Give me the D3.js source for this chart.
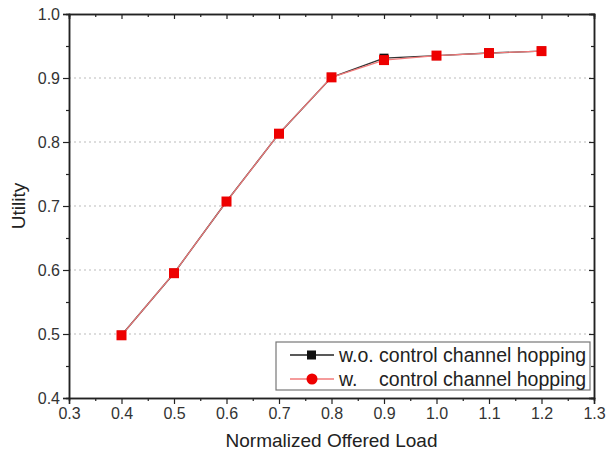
<!DOCTYPE html>
<html>
<head>
<meta charset="utf-8">
<script src="https://cdn.jsdelivr.net/npm/d3@7"></script>
<style>
  body { margin: 0; background: #fff; }
  svg { font-family: "Liberation Sans", Arial, sans-serif; }
</style>
</head>
<body>
<svg width="606" height="459"></svg>
<script>
const loads = [0.4, 0.5, 0.6, 0.7, 0.8, 0.9, 1.0, 1.1, 1.2];
const withoutHopping = [0.498, 0.595, 0.707, 0.813, 0.901, 0.931, 0.935, 0.939, 0.942];
const withHopping = [0.498, 0.595, 0.707, 0.813, 0.901, 0.928, 0.935, 0.939, 0.942];
const seriesNames = ["w.o. control channel hopping", "w.    control channel hopping"];
const xTicks = [0.3, 0.4, 0.5, 0.6, 0.7, 0.8, 0.9, 1.0, 1.1, 1.2, 1.3];
const yTicks = [0.4, 0.5, 0.6, 0.7, 0.8, 0.9, 1.0];
const gridTicks = [0.5, 0.6, 0.7, 0.8, 0.9];

const svg = d3.select("svg"),
  margin = { top: 14, right: 12, bottom: 61, left: 69 },
  width = +svg.attr("width") - margin.left - margin.right,
  height = +svg.attr("height") - margin.top - margin.bottom;

const chart = svg
  .append("g")
  .attr("transform", `translate(${margin.left},${margin.top})`);

const x = d3.scaleLinear().domain([0.3, 1.3]).range([0, width]);
const y = d3.scaleLinear().domain([0.4, 1.0]).range([height, 0]);

// dotted grid
chart
  .selectAll(".grid")
  .data(gridTicks)
  .enter()
  .append("line")
  .attr("x1", 0)
  .attr("x2", width)
  .attr("y1", (d) => y(d))
  .attr("y2", (d) => y(d))
  .attr("stroke", "#bbb")
  .attr("stroke-width", 1)
  .attr("stroke-dasharray", "2,3");

const minorX = d3.range(0.35, 1.3, 0.1);
const minorY = d3.range(0.45, 1.0, 0.1);

function styleAxis(g, labels) {
  g.select(".domain").attr("stroke", "#222").attr("stroke-width", 1.5);
  g.selectAll(".tick line").attr("stroke", "#222").attr("stroke-width", 1.2);
  g.selectAll(".tick text")
    .attr("fill", labels ? "#333" : "none")
    .attr("font-size", 16);
}

// bottom
chart.append("g")
  .attr("transform", `translate(0,${height})`)
  .call(d3.axisBottom(x).tickValues(xTicks).tickFormat(d3.format(".1f")).tickSize(6).tickPadding(4))
  .call((g) => styleAxis(g, true));
chart.append("g")
  .attr("transform", `translate(0,${height})`)
  .call(d3.axisBottom(x).tickValues(minorX).tickSize(3).tickFormat(""))
  .call((g) => styleAxis(g, false));

// left
chart.append("g")
  .call(d3.axisLeft(y).tickValues(yTicks).tickFormat(d3.format(".1f")).tickSize(6).tickPadding(3))
  .call((g) => styleAxis(g, true));
chart.append("g")
  .call(d3.axisLeft(y).tickValues(minorY).tickSize(3).tickFormat(""))
  .call((g) => styleAxis(g, false));

// top and right mirrored, ticks inward
chart.append("g")
  .call(d3.axisTop(x).tickValues(xTicks).tickSize(-5).tickFormat(""))
  .call((g) => styleAxis(g, false));
chart.append("g")
  .call(d3.axisTop(x).tickValues(minorX).tickSize(-3).tickFormat(""))
  .call((g) => styleAxis(g, false));
chart.append("g")
  .attr("transform", `translate(${width},0)`)
  .call(d3.axisRight(y).tickValues(yTicks).tickSize(-5).tickFormat(""))
  .call((g) => styleAxis(g, false));
chart.append("g")
  .attr("transform", `translate(${width},0)`)
  .call(d3.axisRight(y).tickValues(minorY).tickSize(-3).tickFormat(""))
  .call((g) => styleAxis(g, false));

// axis titles
svg.append("text")
  .attr("x", margin.left + x(0.8))
  .attr("y", 447)
  .attr("text-anchor", "middle")
  .attr("font-size", 19)
  .attr("fill", "#222")
  .text("Normalized Offered Load");

svg.append("text")
  .attr("transform", `translate(25,${margin.top + y(0.7)}) rotate(-90)`)
  .attr("text-anchor", "middle")
  .attr("font-size", 19)
  .attr("fill", "#222")
  .text("Utility");

const line = d3.line().x((d) => x(d[0])).y((d) => y(d[1]));
const ptsA = loads.map((l, i) => [l, withoutHopping[i]]);
const ptsB = loads.map((l, i) => [l, withHopping[i]]);

// black series
chart.append("path")
  .datum(ptsA)
  .attr("fill", "none")
  .attr("stroke", "#333")
  .attr("stroke-width", 1.4)
  .attr("d", line);
chart.selectAll(".sqA")
  .data(ptsA)
  .enter()
  .append("rect")
  .attr("x", (d) => x(d[0]) - 4.5)
  .attr("y", (d) => y(d[1]) - 4.5)
  .attr("width", 9)
  .attr("height", 9)
  .attr("fill", "#111");

// red series
chart.append("path")
  .datum(ptsB)
  .attr("fill", "none")
  .attr("stroke", "#f27a7a")
  .attr("stroke-width", 1.2)
  .attr("d", line);
chart.selectAll(".sqB")
  .data(ptsB)
  .enter()
  .append("rect")
  .attr("x", (d) => x(d[0]) - 5)
  .attr("y", (d) => y(d[1]) - 5)
  .attr("width", 10)
  .attr("height", 10)
  .attr("fill", "#ee0000");

// legend
const legend = svg.append("g").attr("transform", "translate(276,342)");
legend.append("rect")
  .attr("width", 314)
  .attr("height", 48)
  .attr("fill", "#fff")
  .attr("stroke", "#777")
  .attr("stroke-width", 1.2);

const rows = legend.selectAll(".row")
  .data(seriesNames)
  .enter()
  .append("g")
  .attr("transform", (d, i) => `translate(0,${13 + i * 24})`);
rows.append("line")
  .attr("x1", 14)
  .attr("x2", 58)
  .attr("stroke", (d, i) => (i === 0 ? "#222" : "#f27a7a"))
  .attr("stroke-width", 1.3);
rows.filter((d, i) => i === 0)
  .append("rect")
  .attr("x", 31)
  .attr("y", -4.5)
  .attr("width", 9)
  .attr("height", 9)
  .attr("fill", "#111");
rows.filter((d, i) => i === 1)
  .append("circle")
  .attr("cx", 36)
  .attr("r", 5.5)
  .attr("fill", "#ee0000");
rows.append("text")
  .attr("x", 63)
  .attr("dy", "0.35em")
  .attr("font-size", 19.5)
  .attr("fill", "#222")
  .style("white-space", "pre")
  .text((d) => d);
</script>
</body>
</html>
